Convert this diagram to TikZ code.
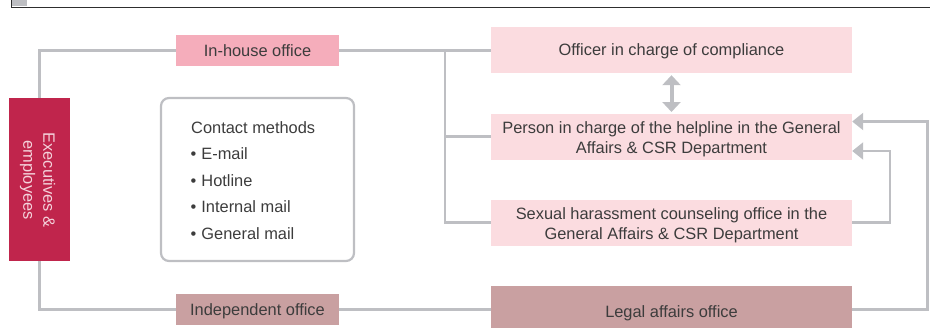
\documentclass[tikz,border=0pt]{standalone}
\usepackage{fontspec}
\setmainfont{Liberation Sans}
\usetikzlibrary{arrows.meta}
\definecolor{txt}{HTML}{3C3C3C}
\definecolor{wire}{HTML}{BEBFC3}
\definecolor{crimson}{HTML}{C0254C}
\definecolor{paletxt}{HTML}{F4D2DB}
\definecolor{pinkmid}{HTML}{F5ADBB}
\definecolor{pinklight}{HTML}{FBDCE0}
\definecolor{rosedust}{HTML}{C9A0A1}
\definecolor{rule}{HTML}{2E2E2E}
\definecolor{tab}{HTML}{BDBEC2}
\tikzset{
  every node/.style={font=\fontsize{16.4}{20}\selectfont, text=txt, inner sep=0pt},
  oneline/.style={text height=11.8pt, text depth=0pt},
  office/.style={oneline, fill=pinkmid, minimum width=163pt, minimum height=31pt},
  indepbox/.style={oneline, fill=rosedust, minimum width=163pt, minimum height=31pt},
  deptbox/.style={fill=pinklight, minimum width=361pt, minimum height=46pt},
  twolines/.style={align=center},
  legalbox/.style={fill=rosedust, minimum width=361pt, minimum height=51pt},
  wireline/.style={draw=wire, line width=2.2pt},
  feedback/.style={wireline, -{Triangle[length=11pt,width=17pt]}},
  twoway/.style={draw=wire, line width=4pt, {Triangle[length=10pt,width=18pt]}-{Triangle[length=10pt,width=18pt]}},
  methodbox/.style={draw=wire, line width=2.2pt, rounded corners=8pt, minimum width=193pt, minimum height=163pt},
  methoditem/.style={anchor=base west}
}
\newcommand{\bul}{\textbullet\hspace{5pt}}
\begin{document}
\begin{tikzpicture}[x=1pt, y=-1pt]
\useasboundingbox (0,0) rectangle (934,327);

% heading rule and tab
\fill[tab] (12,0) rectangle (27,6);
\draw[rule, line width=1.3pt] (11.5,0) -- (11.5,7.2) -- (930,7.2);

% people who raise a concern
\node[fill=crimson, minimum width=61pt, minimum height=163pt] (exec) at (39.5,179.5) {};
\node[rotate=-90, text=paletxt, align=center] (execlabel) at (37.5,180) {Executives \&\\employees};

% reporting channels
\node[office] (inhouse) at (257.5,50.5) {In-house office};
\node[indepbox] (indep) at (257.5,309.5) {Independent office};

\node[deptbox, oneline] (officer) at (671.5,50) {Officer in charge of compliance};
\node[deptbox] (person) at (671.5,136.5) {};
\node[twolines] (persontext) at (671.5,139) {Person in charge of the helpline in the General\\Affairs \& CSR Department};
\node[deptbox] (sexual) at (671.5,223) {};
\node[twolines] (sexualtext) at (671.5,225.3) {Sexual harassment counseling office in the\\General Affairs \& CSR Department};
\node[legalbox] (legal) at (671.5,311.5) {};
\node[oneline] (legallabel) at (671.5,311.8) {Legal affairs office};

% contact methods
\node[methodbox] (methods) at (257.5,179.5) {};
\node[methoditem] (m0) at (191,133) {Contact methods};
\node[methoditem] (m1) at (190.5,159.5) {\bul E-mail};
\node[methoditem] (m2) at (190.5,186) {\bul Hotline};
\node[methoditem] (m3) at (190.5,212.5) {\bul Internal mail};
\node[methoditem] (m4) at (190.5,239) {\bul General mail};

% connectors
\coordinate (jtop) at (445,50.5);
\coordinate (jmid) at (445,136.5);
\coordinate (jbot) at (445,222.5);
\draw[wireline] (exec.north) |- (inhouse.west);
\draw[wireline] (inhouse.east) -- (jtop) -- (officer.west |- jtop);
\draw[wireline] (jtop) |- (sexual.west |- jbot);
\draw[wireline] (jmid) -- (person.west |- jmid);
\draw[wireline] (exec.south) |- (indep.west);
\draw[wireline] (indep.east) -- (legal.west |- indep.east);

\coordinate (r1) at (890,222.5);
\coordinate (r2) at (927.5,309.5);
\draw[feedback] (sexual.east |- r1) -- (r1) -- (890,151) -- (person.east |- 0,151);
\draw[feedback] (legal.east |- r2) -- (r2) -- (927.5,121.5) -- (person.east |- 0,121.5);

\coordinate (ta) at ([yshift=-2pt]officer.south);
\coordinate (tb) at ([yshift=1.3pt]person.north);
\draw[twoway] (ta) -- (tb);
\end{tikzpicture}
\end{document}
